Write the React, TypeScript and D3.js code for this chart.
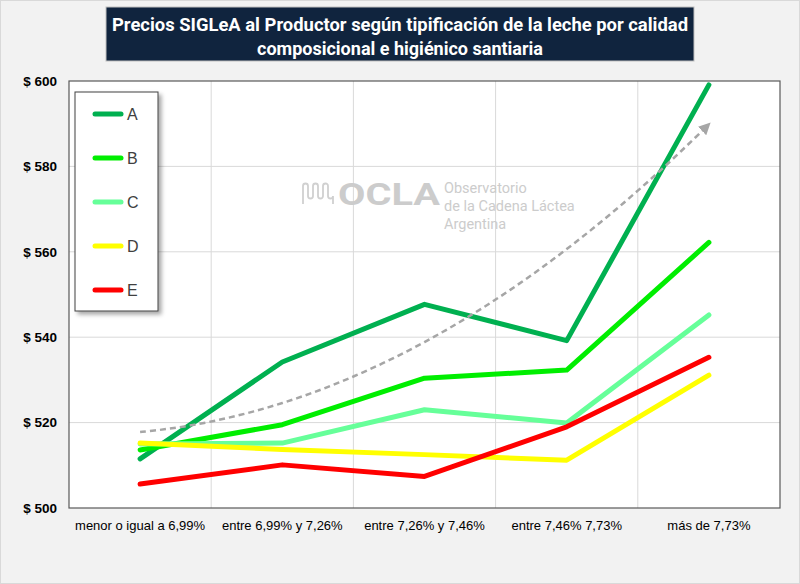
import * as d3 from "d3";
import { useEffect, useRef } from "react";

const categories = [
  "menor o igual a 6,99%",
  "entre 6,99% y 7,26%",
  "entre 7,26% y 7,46%",
  "entre 7,46% 7,73%",
  "más de 7,73%",
];

const seriesA = [511.5, 534.2, 547.7, 539.2, 599.1];
const seriesB = [513.6, 519.5, 530.4, 532.3, 562.2];
const seriesC = [515.0, 515.2, 523.0, 519.9, 545.2];
const seriesD = [515.2, 513.7, 512.5, 511.2, 531.1];
const seriesE = [505.6, 510.1, 507.4, 519.0, 535.3];

const seriesNames = ["A", "B", "C", "D", "E"];
const seriesColors = ["#00b050", "#00ee00", "#66ff99", "#ffff00", "#ff0000"];
const yTicks = [500, 520, 540, 560, 580, 600];

const titleLines = [
  "Precios SIGLeA al Productor  según tipificación  de la leche por calidad",
  "composicional  e higiénico santiaria",
];

// quadratic least-squares fit (Excel polynomial trendline, order 2)
function quadFit(ys: number[]) {
  const xs = ys.map((_, i) => i - (ys.length - 1) / 2);
  const n = ys.length;
  const mean = d3.sum(ys) / n;
  const b = d3.sum(xs, (x, i) => x * ys[i]) / d3.sum(xs, (x) => x * x);
  const m2 = d3.mean(xs, (x) => x * x) ?? 0;
  const q = xs.map((x) => x * x - m2);
  const c = d3.sum(q, (v, i) => v * ys[i]) / d3.sum(q, (v) => v * v);
  return (t: number) => {
    const x = t - (n - 1) / 2;
    return mean + b * x + c * (x * x - m2);
  };
}

const LineChart: React.FC = () => {
  const ref = useRef<SVGSVGElement | null>(null);

  useEffect(() => {
    document.body.style.margin = "0";
    const svg = d3.select(ref.current);
    svg.selectAll("*").remove();

    const width = 800;
    const height = 584;
    svg.attr("width", width).attr("height", height);

    const defs = svg.append("defs");
    defs
      .append("marker")
      .attr("id", "arrow")
      .attr("viewBox", "0 0 10 10")
      .attr("refX", 8)
      .attr("refY", 5)
      .attr("markerWidth", 12)
      .attr("markerHeight", 12)
      .attr("markerUnits", "userSpaceOnUse")
      .attr("orient", "auto")
      .append("path")
      .attr("d", "M0,0 L10,5 L0,10 Z")
      .attr("fill", "#a6a6a6");
    const shadow = defs
      .append("filter")
      .attr("id", "shadow")
      .attr("x", "-20%")
      .attr("y", "-20%")
      .attr("width", "140%")
      .attr("height", "140%");
    shadow
      .append("feDropShadow")
      .attr("dx", 3)
      .attr("dy", 3)
      .attr("stdDeviation", 2)
      .attr("flood-color", "#000")
      .attr("flood-opacity", 0.35);

    // page background
    svg
      .append("rect")
      .attr("x", 0.5)
      .attr("y", 0.5)
      .attr("width", width - 1)
      .attr("height", height - 1)
      .attr("fill", "#f2f2f2")
      .attr("stroke", "#d9d9d9");

    // title box
    svg
      .append("rect")
      .attr("x", 106)
      .attr("y", 7)
      .attr("width", 588)
      .attr("height", 54)
      .attr("fill", "#10243e")
      .attr("stroke", "#bfbfbf");
    titleLines.forEach((t, i) => {
      svg
        .append("text")
        .attr("x", 400)
        .attr("y", 31 + i * 24)
        .attr("text-anchor", "middle")
        .attr("fill", "#ffffff")
        .attr("font-family", "Roboto, 'Liberation Sans', sans-serif")
        .attr("font-weight", "bold")
        .attr("font-size", 18)
        .attr("textLength", i === 0 ? 576 : 286)
        .attr("lengthAdjust", "spacingAndGlyphs")
        .text(t);
    });

    const margin = { top: 81, left: 69, right: 20, bottom: 76 };
    const chartWidth = width - margin.left - margin.right;
    const chartHeight = height - margin.top - margin.bottom;

    const xScale = d3
      .scaleBand()
      .domain(categories)
      .range([0, chartWidth]);

    const yScale = d3.scaleLinear().domain([500, 600]).range([chartHeight, 0]);

    const g = svg
      .append("g")
      .attr("transform", `translate(${margin.left}, ${margin.top})`);

    g.append("rect")
      .attr("width", chartWidth)
      .attr("height", chartHeight)
      .attr("fill", "#ffffff");

    // gridlines
    g.append("g")
      .selectAll("line")
      .data(yTicks.slice(1, -1))
      .enter()
      .append("line")
      .attr("x1", 0)
      .attr("x2", chartWidth)
      .attr("y1", (d) => yScale(d))
      .attr("y2", (d) => yScale(d))
      .attr("stroke", "#d9d9d9")
      .attr("stroke-width", 1);
    g.append("g")
      .selectAll("line")
      .data(categories.slice(1))
      .enter()
      .append("line")
      .attr("x1", (d) => xScale(d) ?? 0)
      .attr("x2", (d) => xScale(d) ?? 0)
      .attr("y1", 0)
      .attr("y2", chartHeight)
      .attr("stroke", "#d9d9d9")
      .attr("stroke-width", 1);

    // plot border
    g.append("rect")
      .attr("width", chartWidth)
      .attr("height", chartHeight)
      .attr("fill", "none")
      .attr("stroke", "#595959")
      .attr("stroke-width", 1.2);

    // watermark
    const wm = g
      .append("g")
      .attr("transform", `translate(${302 - margin.left}, ${180 - margin.top})`);
    wm.append("path")
      .attr(
        "d",
        "M1,24 V6 a2.5,2.5 0 0 1 5,0 V16 a2.5,2.5 0 0 0 5,0 V6 a2.5,2.5 0 0 1 5,0 V16 a2.5,2.5 0 0 0 5,0 V6 a2.5,2.5 0 0 1 5,0 V16 a2.5,2.5 0 0 0 5,0 V24"
      )
      .attr("fill", "none")
      .attr("stroke", "#d0d0d0")
      .attr("stroke-width", 1.8);
    wm.append("text")
      .attr("x", 36)
      .attr("y", 25)
      .attr("font-family", "Roboto, 'Liberation Sans', sans-serif")
      .attr("font-weight", "bold")
      .attr("font-size", 31)
      .attr("textLength", 102)
      .attr("lengthAdjust", "spacingAndGlyphs")
      .attr("fill", "#cccccc")
      .text("OCLA");
    ["Observatorio", "de la Cadena Láctea", "Argentina"].forEach((t, i) => {
      wm.append("text")
        .attr("x", 142)
        .attr("y", 13 + i * 18)
        .attr("font-family", "Roboto, 'Liberation Sans', sans-serif")
        .attr("font-size", 14.5)
        .attr("fill", "#cccccc")
        .text(t);
    });

    // axes labels
    const yAxis = g
      .append("g")
      .call(d3.axisLeft(yScale).tickValues(yTicks).tickSize(0).tickPadding(12).tickFormat((d) => `$ ${d}`));
    yAxis.select(".domain").remove();
    yAxis
      .selectAll("text")
      .style("font-size", "13.5px")
      .style("font-family", "'Liberation Sans', Arial, sans-serif")
      .style("font-weight", "bold")
      .style("fill", "#000");

    const xAxis = g
      .append("g")
      .attr("transform", `translate(0, ${chartHeight})`)
      .call(d3.axisBottom(xScale).tickSize(0).tickPadding(13));
    xAxis.select(".domain").remove();
    xAxis
      .selectAll("text")
      .style("font-size", "13px")
      .style("font-family", "'Liberation Sans', Arial, sans-serif")
      .style("fill", "#000");

    const cx = (i: number) => (xScale(categories[i]) ?? 0) + xScale.bandwidth() / 2;

    const line = d3
      .line<number>()
      .x((_, i) => cx(i))
      .y((d) => yScale(d));

    const allSeries = [seriesA, seriesB, seriesC, seriesD, seriesE];
    g.append("g")
      .selectAll("path")
      .data(allSeries)
      .enter()
      .append("path")
      .attr("d", (d) => line(d))
      .attr("fill", "none")
      .attr("stroke", (_, i) => seriesColors[i])
      .attr("stroke-width", 5)
      .attr("stroke-linecap", "round")
      .attr("stroke-linejoin", "round");

    // polynomial trendline for A
    const fit = quadFit(seriesA);
    const ts = d3.range(0, 4.001, 0.1);
    const trend = d3
      .line<number>()
      .x((t) => cx(0) + t * xScale.bandwidth())
      .y((t) => yScale(fit(t)))
      .curve(d3.curveBasis);
    g.append("path")
      .attr("d", trend(ts))
      .attr("fill", "none")
      .attr("stroke", "#a6a6a6")
      .attr("stroke-width", 2.5)
      .attr("stroke-dasharray", "6,4")
      .attr("marker-end", "url(#arrow)");

    // legend
    const legend = svg.append("g").attr("transform", "translate(75, 92)");
    legend
      .append("rect")
      .attr("width", 83)
      .attr("height", 219)
      .attr("fill", "#ffffff")
      .attr("stroke", "#404040")
      .attr("stroke-width", 1)
      .attr("filter", "url(#shadow)");
    seriesNames.forEach((name, i) => {
      const y = 22 + i * 44;
      legend
        .append("line")
        .attr("x1", 20)
        .attr("x2", 46)
        .attr("y1", y)
        .attr("y2", y)
        .attr("stroke", seriesColors[i])
        .attr("stroke-width", 5)
        .attr("stroke-linecap", "round");
      legend
        .append("text")
        .attr("x", 52)
        .attr("y", y + 6)
        .attr("font-family", "'Liberation Sans', Arial, sans-serif")
        .attr("font-size", 16)
        .attr("fill", "#404040")
        .text(name);
    });
  }, []);

  return <svg ref={ref} style={{ display: "block" }}></svg>;
};

export default function App() {
  return <LineChart />;
}
